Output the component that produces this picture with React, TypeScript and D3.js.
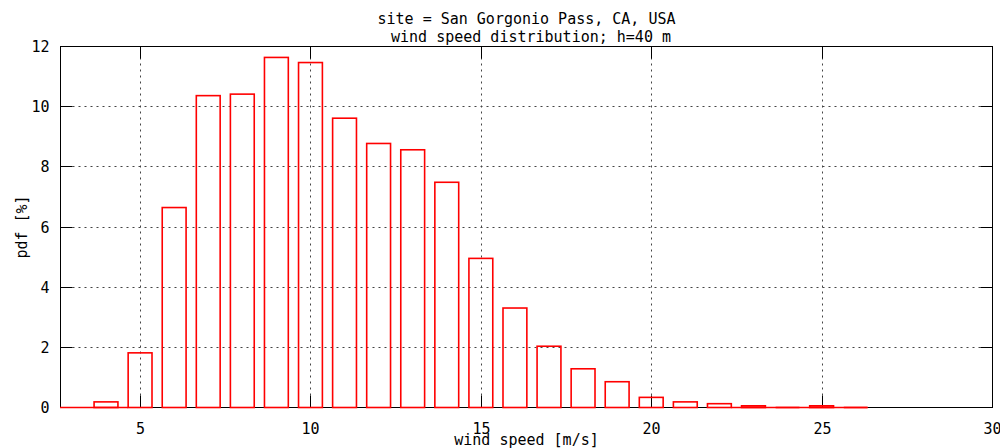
import React from "react";
import * as d3 from "d3";

// wind speed bins [m/s] and pdf [%]
const speeds: number[] = [4, 5, 6, 7, 8, 9, 10, 11, 12, 13, 14, 15, 16, 17, 18, 19, 20, 21, 22, 23, 24, 25, 26];
const pdf: number[] = [0.17, 1.8, 6.63, 10.35, 10.4, 11.62, 11.45, 9.6, 8.76, 8.55, 7.47, 4.94, 3.29, 2.02, 1.27, 0.84, 0.32, 0.17, 0.11, 0.04, 0, 0.04, 0];
const xTicks: number[] = [5, 10, 15, 20, 25, 30];
const yTicks: number[] = [0, 2, 4, 6, 8, 10, 12];
const titleLines: string[] = ["site = San Gorgonio Pass, CA, USA", " wind speed distribution; h=40 m"];

const boxWidth = 0.7;

const App: React.FC = () => {
  const width = 1000;
  const height = 448;
  const margin = { top: 46, right: 8, bottom: 41, left: 60 };
  const font = "'DejaVu Sans Mono', 'Liberation Mono', monospace";

  const x = d3.scaleLinear().domain([2.65, 30]).range([margin.left, width - margin.right]);
  const y = d3.scaleLinear().domain([0, 12]).range([height - margin.bottom, margin.top]);

  const px = (v: number) => Math.round(x(v)) + 0.5;
  const py = (v: number) => Math.round(y(v)) + 0.5;

  const x0 = px(2.65);
  const x1 = px(30);
  const y0 = py(0);
  const y1 = py(12);
  const tick = 12;
  const midX = (x0 + x1) / 2;

  // parts of the baseline that gnuplot drew in red (empty boxes)
  const redBase: [number, number][] = [
    [2.65, speeds[1] - boxWidth / 2],
    [speeds[18] + boxWidth / 2, speeds[speeds.length - 1] + boxWidth / 2],
  ];

  return (
    <svg width={width} height={height} style={{ position: "absolute", left: 0, top: 0, background: "#fff" }}>
      {/* grid */}
      <g stroke="#444" strokeWidth={1} strokeDasharray="2,4">
        {xTicks.filter((t) => t < 30).map((t) => (
          <line key={"gx" + t} x1={px(t)} x2={px(t)} y1={y0} y2={y1} />
        ))}
        {yTicks.filter((t) => t > 0 && t < 12).map((t) => (
          <line key={"gy" + t} x1={x0} x2={x1} y1={py(t)} y2={py(t)} />
        ))}
      </g>

      {/* frame + inward ticks */}
      <g stroke="#000" strokeWidth={1} fill="none">
        <rect x={x0} y={y1} width={x1 - x0} height={y0 - y1} />
        {xTicks.map((t) => (
          <g key={"tx" + t}>
            <line x1={px(t)} x2={px(t)} y1={y0} y2={y0 - tick} />
            <line x1={px(t)} x2={px(t)} y1={y1} y2={y1 + tick} />
          </g>
        ))}
        {yTicks.map((t) => (
          <g key={"ty" + t}>
            <line x1={x0} x2={x0 + tick} y1={py(t)} y2={py(t)} />
            <line x1={x1} x2={x1 - tick} y1={py(t)} y2={py(t)} />
          </g>
        ))}
      </g>

      {/* histogram boxes */}
      <g stroke="#ff0000" strokeWidth={1.6} fill="none" strokeLinejoin="miter">
        {redBase.map(([a, b], i) => (
          <line key={"rb" + i} x1={x(a)} x2={x(b)} y1={y0} y2={y0} />
        ))}
        {speeds.map((s, i) => {
          const l = x(s - boxWidth / 2);
          const r = x(s + boxWidth / 2);
          const top = y(pdf[i]);
          if (pdf[i] === 0) return <line key={"b" + s} x1={l} x2={r} y1={y0} y2={y0} />;
          return <rect key={"b" + s} x={l} y={Math.min(top, y0 - 1)} width={r - l} height={y0 - Math.min(top, y0 - 1)} />;
        })}
      </g>

      {/* tick labels */}
      <g fontFamily={font} fontSize={15} fill="#000">
        {yTicks.map((t) => (
          <text key={"ly" + t} x={x0 - 11} y={py(t)} dy="0.35em" textAnchor="end">
            {t}
          </text>
        ))}
        {xTicks.map((t) => (
          <text key={"lx" + t} x={px(t)} y={y0 + 21} dy="0.35em" textAnchor="middle">
            {t}
          </text>
        ))}
      </g>

      {/* titles */}
      <g fontFamily={font} fontSize={15} fill="#000" textAnchor="middle">
        {titleLines.map((line, i) => (
          <text key={"t" + i} x={midX} y={24 + i * 18} style={{ whiteSpace: "pre" }}>
            {line}
          </text>
        ))}
        <text x={midX} y={445}>wind speed [m/s]</text>
        <text transform={`translate(27,${(y0 + y1) / 2}) rotate(-90)`}>pdf [%]</text>
      </g>
    </svg>
  );
};

export default App;
